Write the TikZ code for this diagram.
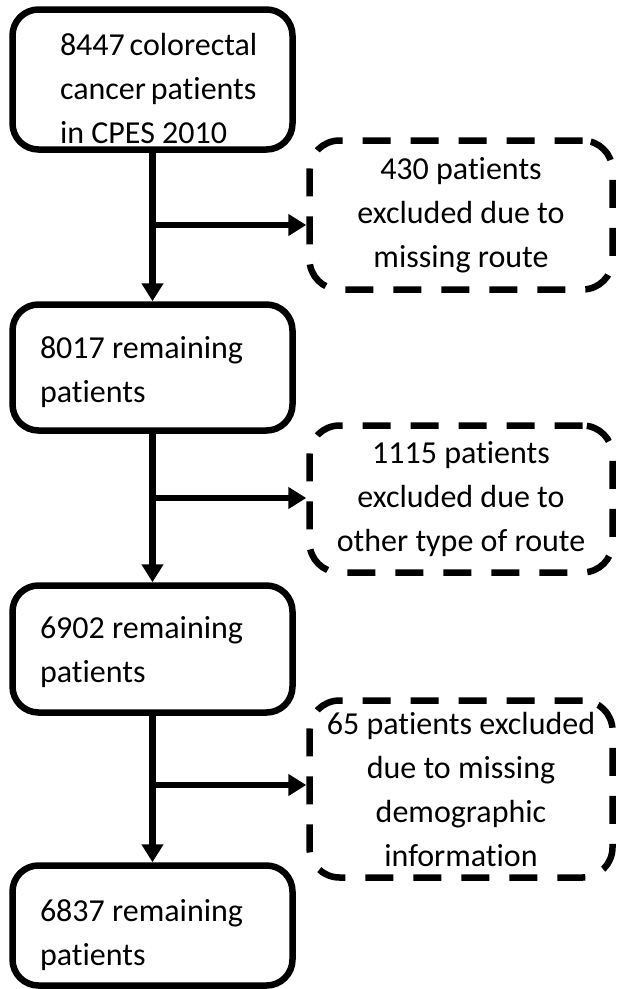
\documentclass[tikz,border=0pt]{standalone}
\usepackage{fontspec}
\setmainfont{Carlito}[Ligatures=NoCommon]
\usetikzlibrary{arrows.meta,positioning}

\begin{document}
\begin{tikzpicture}[x=1pt,y=-1pt,
  font=\fontsize{32pt}{44pt}\selectfont,
  keep/.style={draw=black,line width=6.5pt,rounded corners=26pt,align=flush left,
    minimum width=280pt,text width=225pt,inner xsep=27.5pt,inner ysep=0pt},
  drop/.style={draw=black,line width=6.5pt,rounded corners=30pt,align=center,
    minimum width=303pt,inner sep=0pt,dash pattern=on 28pt off 20pt},
  topgap/.style={execute at begin node={\hyphenpenalty=10000\relax\rule{0pt}{#1}}},
  flow/.style={line width=6.5pt,-{Triangle[width=21pt,length=18pt]}}]
\useasboundingbox (0,0) rectangle (619,989);

% ================= MAIN COLUMN =================
\node[keep,minimum height=140pt,text width=185pt,inner xsep=47.5pt,topgap=40pt] (start)
  at (152.5,79.5) {8447~colorectal\\cancer~patients\\in~CPES~2010};
\node[keep,minimum height=126pt,topgap=32pt] (left1) at (152.5,367.5) {8017 remaining\\patients};
\node[keep,minimum height=127pt,topgap=28pt] (left2) at (152.5,649) {6902 remaining\\patients};
\node[keep,minimum height=120pt,topgap=42pt] (left3) at (152.5,925.5) {6837 remaining\\patients};

% ================= EXCLUSIONS =================
\node[drop,minimum height=149pt,topgap=28pt] (ex1) at (461,215) {430 patients\\excluded due to\\missing route};
\node[drop,minimum height=147pt] (ex2) at (461,499) {1115 patients\\excluded due to\\other type of route};
\node[drop,minimum height=177pt,topgap=34pt] (ex3) at (461,789) {65 patients excluded\\due to missing\\demographic\\information};

% ================= ARROWS =================
\draw[flow] (start) -- (left1);
\draw[flow] (left1) -- (left2);
\draw[flow] (left2) -- (left3);
\coordinate (b1) at (152.5,225);
\coordinate (b2) at (152.5,498);
\coordinate (b3) at (152.5,785);
\draw[flow] (b1) -- (b1 -| ex1.west);
\draw[flow] (b2) -- (b2 -| ex2.west);
\draw[flow] (b3) -- (b3 -| ex3.west);
\end{tikzpicture}
\end{document}
